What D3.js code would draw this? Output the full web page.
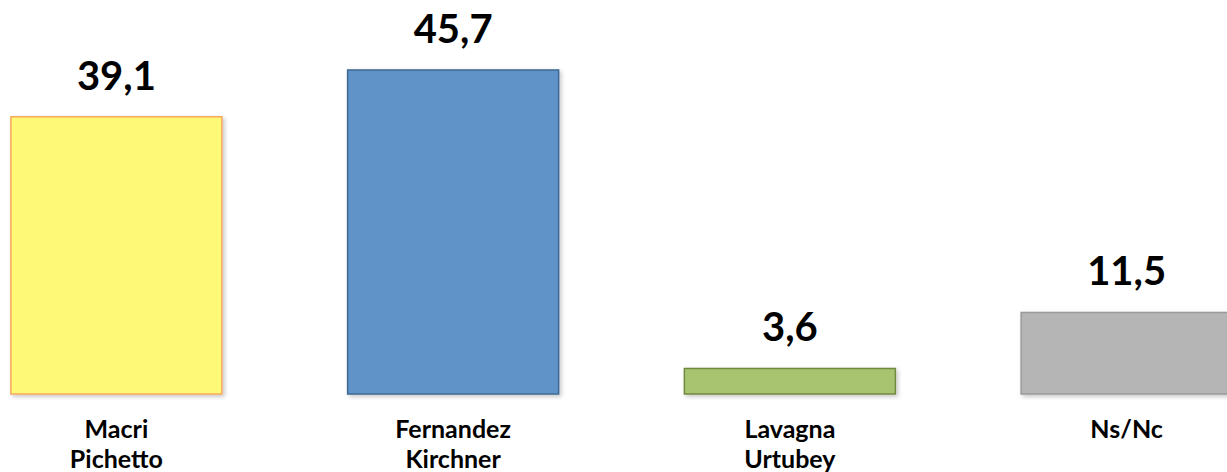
<!DOCTYPE html>
<html>
<head>
<meta charset="utf-8">
<script src="https://cdn.jsdelivr.net/npm/d3@7/dist/d3.min.js"></script>
<style>
  html, body { margin: 0; padding: 0; background: #ffffff; overflow: hidden; }
  svg { display: block; }
</style>
</head>
<body>
<svg id="chart" width="1227" height="472"></svg>
<script>
const categoriesLine1 = ["Macri", "Fernandez", "Lavagna", "Ns/Nc"];
const categoriesLine2 = ["Pichetto", "Kirchner", "Urtubey", ""];
const values = [39.1, 45.7, 3.6, 11.5];
const valueLabels = ["39,1", "45,7", "3,6", "11,5"];
const fills = ["#FFF978", "#6194C8", "#A9C46F", "#B5B5B5"];
const strokes = ["#F7A85C", "#3E6795", "#718A40", "#9A9A9A"];

const svg = d3.select("#chart");

const defs = svg.append("defs");
const f = defs.append("filter").attr("id", "shadow")
  .attr("x", "-10%").attr("y", "-10%").attr("width", "130%").attr("height", "130%");
f.append("feDropShadow").attr("dx", 2).attr("dy", 2).attr("stdDeviation", 2)
  .attr("flood-color", "#000").attr("flood-opacity", 0.22);

const idx = d3.range(values.length);
const x = d3.scaleBand()
  .domain(idx)
  .range([-52, 1295])
  .paddingInner(0.3734)
  .paddingOuter(0.1867);

const y = d3.scaleLinear().domain([0, 50]).range([394, 39.5]);

svg.append("g").selectAll("rect")
  .data(idx)
  .join("rect")
  .attr("x", i => x(i))
  .attr("y", i => y(values[i]))
  .attr("width", x.bandwidth())
  .attr("height", i => y(0) - y(values[i]))
  .attr("fill", i => fills[i])
  .attr("stroke", i => strokes[i])
  .attr("stroke-width", 1.5)
  .attr("filter", "url(#shadow)");

svg.append("g").selectAll("text")
  .data(idx)
  .join("text")
  .attr("x", i => x(i) + x.bandwidth() / 2)
  .attr("y", i => y(values[i]) - 27)
  .attr("text-anchor", "middle")
  .attr("font-family", "Lato, 'Open Sans', sans-serif")
  .attr("font-weight", 700)
  .attr("font-size", 40)
  .attr("fill", "#000")
  .text(i => valueLabels[i]);

const catFont = {family: "Lato, 'Open Sans', sans-serif", size: 25};

svg.append("g").selectAll("text")
  .data(idx)
  .join("text")
  .attr("x", i => x(i) + x.bandwidth() / 2)
  .attr("y", 438)
  .attr("text-anchor", "middle")
  .attr("font-family", catFont.family)
  .attr("font-weight", 700)
  .attr("font-size", catFont.size)
  .attr("fill", "#000")
  .text(i => categoriesLine1[i]);

svg.append("g").selectAll("text")
  .data(idx.filter(i => categoriesLine2[i] !== ""))
  .join("text")
  .attr("x", i => x(i) + x.bandwidth() / 2)
  .attr("y", 468)
  .attr("text-anchor", "middle")
  .attr("font-family", catFont.family)
  .attr("font-weight", 700)
  .attr("font-size", catFont.size)
  .attr("fill", "#000")
  .text(i => categoriesLine2[i]);
</script>
</body>
</html>
